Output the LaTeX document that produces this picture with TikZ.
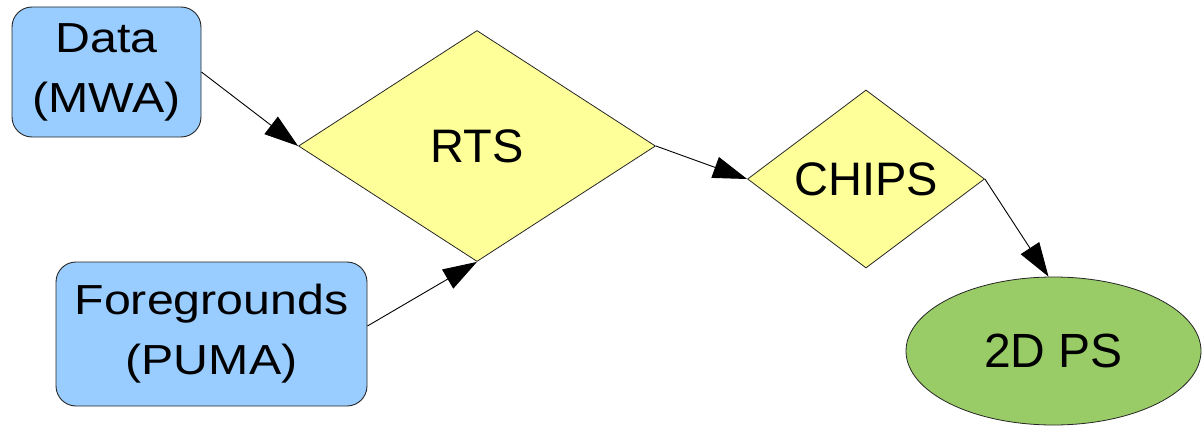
\documentclass[tikz,border=0pt]{standalone}
\usepackage{fontspec}
\setmainfont{Liberation Sans}
\newfontfamily\widesans[FakeStretch=1.15]{Liberation Sans}
\usetikzlibrary{shapes.geometric,arrows.meta}
\definecolor{srcblue}{HTML}{99CCFF}
\definecolor{procyellow}{HTML}{FFFF99}
\definecolor{outgreen}{HTML}{99CC66}
\begin{document}
\begin{tikzpicture}[x=1pt,y=-1pt,
  source/.style={draw=black!85, line width=0.9pt, fill=srcblue,
    rounded corners=20pt, inner sep=0pt, align=center,
    font=\widesans\fontsize{42}{60}\selectfont},
  process/.style={diamond, draw=black!85, line width=0.8pt, fill=procyellow,
    inner sep=0pt, font=\fontsize{47}{56}\selectfont},
  result/.style={ellipse, draw=black!85, line width=0.8pt, fill=outgreen,
    inner sep=0pt, font=\fontsize{48}{56}\selectfont},
  flow/.style={-{Triangle[length=34pt,width=22pt]}, line width=0.9pt, black}
]
\useasboundingbox (0,0) rectangle (1202,428);

% inputs
\node[source, minimum width=189pt, minimum height=130pt] (data) at (106.5,72)
  {Data\\(MWA)};
\node[source, minimum width=311pt, minimum height=144pt] (fg) at (211.5,334)
  {Foregrounds\\(PUMA)};

% processing stages
\node[process, minimum width=357pt, minimum height=231pt] (rts) at (477,146) {RTS};
\node[process, minimum width=237pt, minimum height=178pt] (chips) at (866,179) {CHIPS};

% output
\node[result, minimum width=295pt, minimum height=148pt] (ps) at (1053.5,351) {2D PS};

% data flow
\draw[flow] (data.east) -- (rts.west);
\draw[flow] ([yshift=8pt]fg.east) -- (rts.south);
\draw[flow] (rts.east) -- (chips.west);
\draw[flow] (chips.east) -- ([xshift=-5pt]ps.north);
\end{tikzpicture}
\end{document}
